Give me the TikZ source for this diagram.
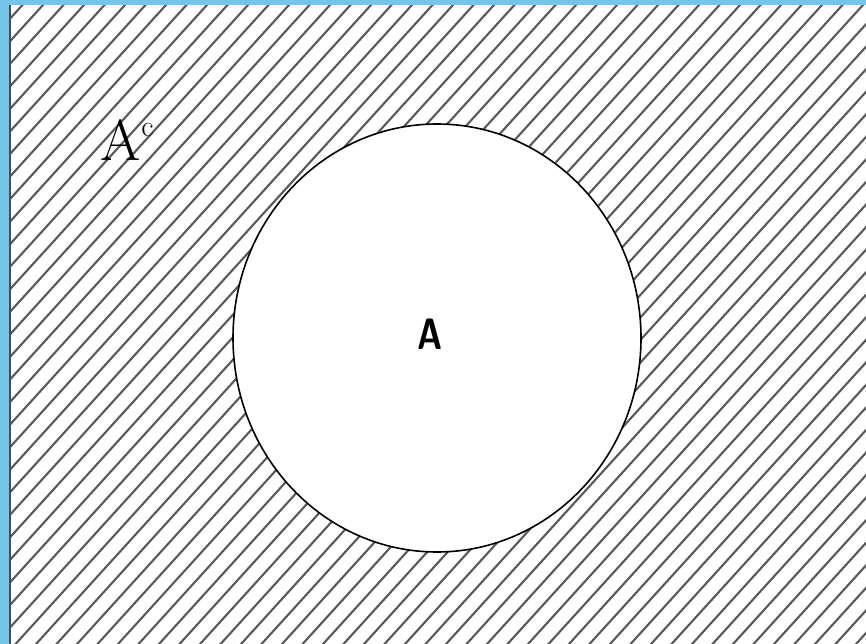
\documentclass[tikz,border=0pt]{standalone}
\usetikzlibrary{shapes.geometric}
\definecolor{frameblue}{RGB}{118,196,232}
\tikzset{
  hatchline/.style={line width=2.1pt, black!65},
  setcircle/.style={ellipse, draw=black, line width=1.6pt, fill=white,
    minimum width=408pt, minimum height=428pt, inner sep=0pt},
  setlabel/.style={font=\sffamily\bfseries\fontsize{44}{48}\selectfont, inner sep=0pt, xscale=0.78},
  complabel/.style={font=\fontsize{58}{62}\selectfont, inner sep=0pt}
}
\begin{document}
\begin{tikzpicture}[x=1pt,y=-1pt]
\useasboundingbox (0,0) rectangle (866,644);
\fill[white] (0,0) rectangle (866,644);
% hatching
\begin{scope}
\clip (10,5) rectangle (866,644);
\foreach \k in {-36,...,46} {
  \draw[hatchline] ({519+20.5*\k},0) -- ({519+20.5*\k-600},{1.1*600});
}
\end{scope}
% frame
\fill[frameblue] (0,0) rectangle (866,5);
\fill[frameblue] (0,0) rectangle (8.5,644);
\draw[line width=2pt, black!70] (9.5,5) -- (9.5,644);
% set A
\node[setcircle] (setA) at (437,338) {};
\node[setlabel] (labA) at (430,334) {A};
\node[complabel, anchor=base west] (labAc) at (100,161) {A\kern1pt\raisebox{24pt}{\fontsize{30}{30}\selectfont c}};
\end{tikzpicture}
\end{document}
